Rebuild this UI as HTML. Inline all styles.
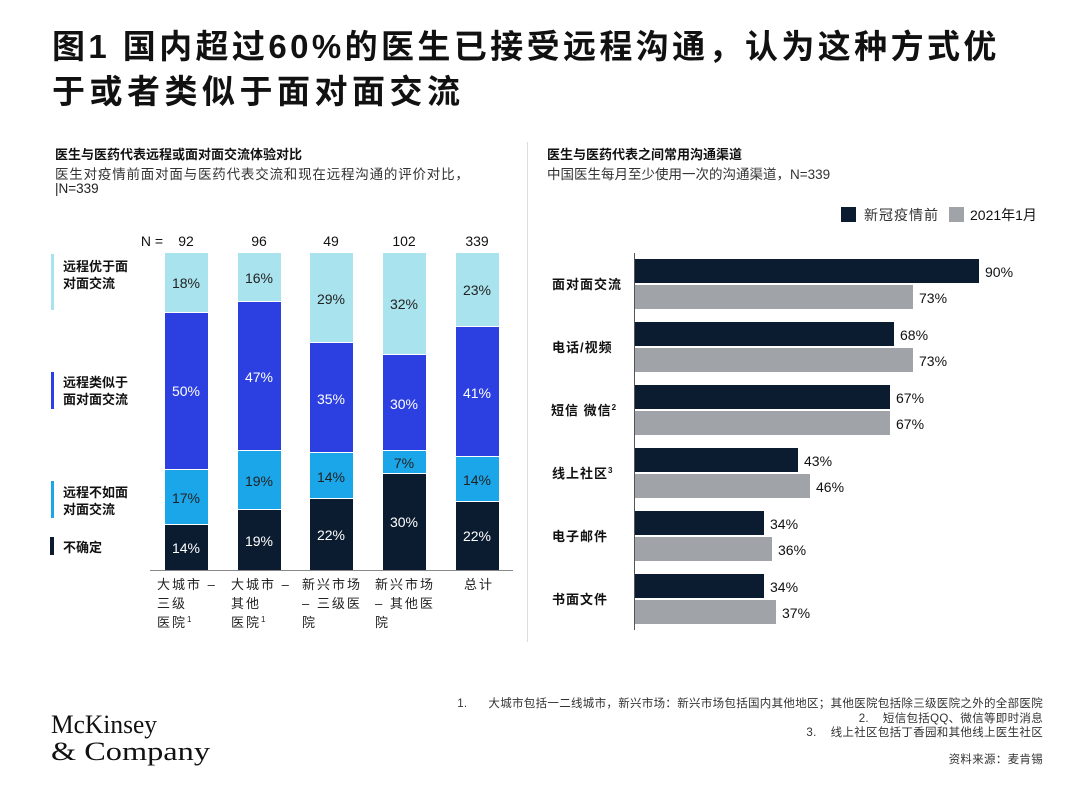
<!DOCTYPE html>
<html><head><meta charset="utf-8"><style>
body{margin:0;width:1080px;height:810px;background:#fff;position:relative;overflow:hidden;font-family:"Liberation Sans","Noto Sans CJK SC",sans-serif;color:#111}
.a{position:absolute;white-space:nowrap}
.t{font-size:33px;font-weight:bold;letter-spacing:3.4px;left:52px;line-height:45px}
.fn{font-size:11.5px;color:#333;right:37px;text-align:right;letter-spacing:0.3px}
</style></head><body>
<div class="a t" style="top:24px">图1 国内超过60%的医生已接受远程沟通，认为这种方式优</div>
<div class="a t" style="top:69px;letter-spacing:4.5px">于或者类似于面对面交流</div>

<div class="a" style="left:55px;top:144px;font-size:13px;font-weight:bold">医生与医药代表远程或面对面交流体验对比</div>
<div class="a" style="left:55px;top:163px;font-size:13.5px;color:#333;letter-spacing:0.8px">医生对疫情前面对面与医药代表交流和现在远程沟通的评价对比，</div>
<div class="a" style="left:55px;top:181px;font-size:13.5px;color:#222">|N=339</div>

<div class="a" style="left:547px;top:144px;font-size:13px;font-weight:bold">医生与医药代表之间常用沟通渠道</div>
<div class="a" style="left:547px;top:163px;font-size:13.5px;color:#333">中国医生每月至少使用一次的沟通渠道，N=339</div>

<div class="a" style="left:527px;top:142px;width:1px;height:500px;background:#ddd"></div>

<svg class="a" style="left:0;top:0" width="1080" height="810" font-family="Liberation Sans, Noto Sans CJK SC, sans-serif">
<g font-size="14" fill="#111" text-anchor="middle">
<text x="152" y="246">N =</text>
<text x="186" y="246">92</text><text x="259" y="246">96</text><text x="331" y="246">49</text><text x="404" y="246">102</text><text x="477" y="246">339</text>
</g>
<g>
<rect x="165" y="253" width="43" height="59" fill="#a9e3ee"/><rect x="165" y="313" width="43" height="156" fill="#2c3fe0"/><rect x="165" y="470" width="43" height="54" fill="#1ba6ea"/><rect x="165" y="525" width="43" height="45" fill="#0b1c30"/>
<rect x="238" y="253" width="43" height="48" fill="#a9e3ee"/><rect x="238" y="302" width="43" height="148" fill="#2c3fe0"/><rect x="238" y="451" width="43" height="58" fill="#1ba6ea"/><rect x="238" y="510" width="43" height="60" fill="#0b1c30"/>
<rect x="310" y="253" width="43" height="89" fill="#a9e3ee"/><rect x="310" y="343" width="43" height="109" fill="#2c3fe0"/><rect x="310" y="453" width="43" height="45" fill="#1ba6ea"/><rect x="310" y="499" width="43" height="71" fill="#0b1c30"/>
<rect x="383" y="253" width="43" height="101" fill="#a9e3ee"/><rect x="383" y="355" width="43" height="95" fill="#2c3fe0"/><rect x="383" y="451" width="43" height="22" fill="#1ba6ea"/><rect x="383" y="474" width="43" height="96" fill="#0b1c30"/>
<rect x="456" y="253" width="43" height="73" fill="#a9e3ee"/><rect x="456" y="327" width="43" height="129" fill="#2c3fe0"/><rect x="456" y="457" width="43" height="44" fill="#1ba6ea"/><rect x="456" y="502" width="43" height="68" fill="#0b1c30"/>
</g>
<line x1="150" y1="570.5" x2="513" y2="570.5" stroke="#888" stroke-width="1"/>
<g font-size="14" text-anchor="middle">
<g fill="#222"><text x="186" y="288">18%</text><text x="259" y="283">16%</text><text x="331" y="304">29%</text><text x="404" y="309">32%</text><text x="477" y="295">23%</text></g>
<g fill="#fff"><text x="186" y="396">50%</text><text x="259" y="382">47%</text><text x="331" y="404">35%</text><text x="404" y="409">30%</text><text x="477" y="398">41%</text></g>
<g fill="#222"><text x="186" y="503">17%</text><text x="259" y="486">19%</text><text x="331" y="482">14%</text><text x="404" y="468">7%</text><text x="477" y="485">14%</text></g>
<g fill="#fff"><text x="186" y="553">14%</text><text x="259" y="546">19%</text><text x="331" y="540">22%</text><text x="404" y="527">30%</text><text x="477" y="541">22%</text></g>
</g>
<rect x="51" y="254" width="3" height="56" fill="#a9e3ee"/>
<rect x="51" y="372" width="3" height="37" fill="#2c3fe0"/>
<rect x="51" y="481" width="3" height="37" fill="#1ba6ea"/>
<rect x="50" y="537" width="4" height="18" fill="#0b1c30"/>
<g font-size="13" fill="#111" font-weight="bold">
<text x="63" y="271">远程优于面</text><text x="63" y="288">对面交流</text>
<text x="63" y="387">远程类似于</text><text x="63" y="404">面对面交流</text>
<text x="63" y="497">远程不如面</text><text x="63" y="514">对面交流</text>
<text x="63" y="552">不确定</text>
</g>
<g font-size="13" fill="#222" letter-spacing="2">
<text x="157" y="589">大城市 –</text><text x="157" y="608">三级</text><text x="157" y="627">医院<tspan font-size="8" dy="-5">1</tspan></text>
<text x="231" y="589">大城市 –</text><text x="231" y="608">其他</text><text x="231" y="627">医院<tspan font-size="8" dy="-5">1</tspan></text>
<text x="302" y="589">新兴市场</text><text x="302" y="608">– 三级医</text><text x="302" y="627">院</text>
<text x="375" y="589">新兴市场</text><text x="375" y="608">– 其他医</text><text x="375" y="627">院</text>
<text x="464" y="589">总计</text>
</g>

<rect x="841" y="207" width="15" height="15" fill="#0b1c30"/>
<text x="864" y="220" font-size="14" fill="#333" letter-spacing="1">新冠疫情前</text>
<rect x="949" y="207" width="15" height="15" fill="#a0a4a9"/>
<text x="970" y="220" font-size="14" fill="#111">2021年1月</text>
<line x1="634.5" y1="253" x2="634.5" y2="630" stroke="#555"/>
<g>
<rect x="635" y="259" width="344" height="24" fill="#0b1c30"/><rect x="635" y="285" width="278" height="24" fill="#a0a4a9"/>
<rect x="635" y="322" width="259" height="24" fill="#0b1c30"/><rect x="635" y="348" width="278" height="24" fill="#a0a4a9"/>
<rect x="635" y="385" width="255" height="24" fill="#0b1c30"/><rect x="635" y="411" width="255" height="24" fill="#a0a4a9"/>
<rect x="635" y="448" width="163" height="24" fill="#0b1c30"/><rect x="635" y="474" width="175" height="24" fill="#a0a4a9"/>
<rect x="635" y="511" width="129" height="24" fill="#0b1c30"/><rect x="635" y="537" width="137" height="24" fill="#a0a4a9"/>
<rect x="635" y="574" width="129" height="24" fill="#0b1c30"/><rect x="635" y="600" width="141" height="24" fill="#a0a4a9"/>
</g>
<g font-size="14" fill="#111">
<text x="985" y="277">90%</text><text x="919" y="303">73%</text>
<text x="900" y="340">68%</text><text x="919" y="366">73%</text>
<text x="896" y="403">67%</text><text x="896" y="429">67%</text>
<text x="804" y="466">43%</text><text x="816" y="492">46%</text>
<text x="770" y="529">34%</text><text x="778" y="555">36%</text>
<text x="770" y="592">34%</text><text x="782" y="618">37%</text>
</g>
<g font-size="13" font-weight="bold" fill="#111" letter-spacing="1">
<text x="552" y="289">面对面交流</text>
<text x="552" y="352">电话/视频</text>
<text x="551" y="415">短信 微信<tspan font-size="8" dy="-5">2</tspan></text>
<text x="552" y="478">线上社区<tspan font-size="8" dy="-5">3</tspan></text>
<text x="552" y="541">电子邮件</text>
<text x="552" y="604">书面文件</text>
</g>
<text x="51" y="733" font-family="Liberation Serif, serif" font-size="26" fill="#111" textLength="106" lengthAdjust="spacingAndGlyphs">McKinsey</text>
<text x="51" y="760" font-family="Liberation Serif, serif" font-size="26" fill="#111" textLength="159" lengthAdjust="spacingAndGlyphs">&amp; Company</text>
</svg>

<div class="a fn" style="top:695px">1.&nbsp;&nbsp;&nbsp;&nbsp;&nbsp;&nbsp;大城市包括一二线城市，新兴市场：新兴市场包括国内其他地区；其他医院包括除三级医院之外的全部医院</div>
<div class="a fn" style="top:710px">2.&nbsp;&nbsp;&nbsp;&nbsp;短信包括QQ、微信等即时消息</div>
<div class="a fn" style="top:724px">3.&nbsp;&nbsp;&nbsp;&nbsp;线上社区包括丁香园和其他线上医生社区</div>
<div class="a fn" style="top:751px">资料来源：麦肯锡</div>
</body></html>
